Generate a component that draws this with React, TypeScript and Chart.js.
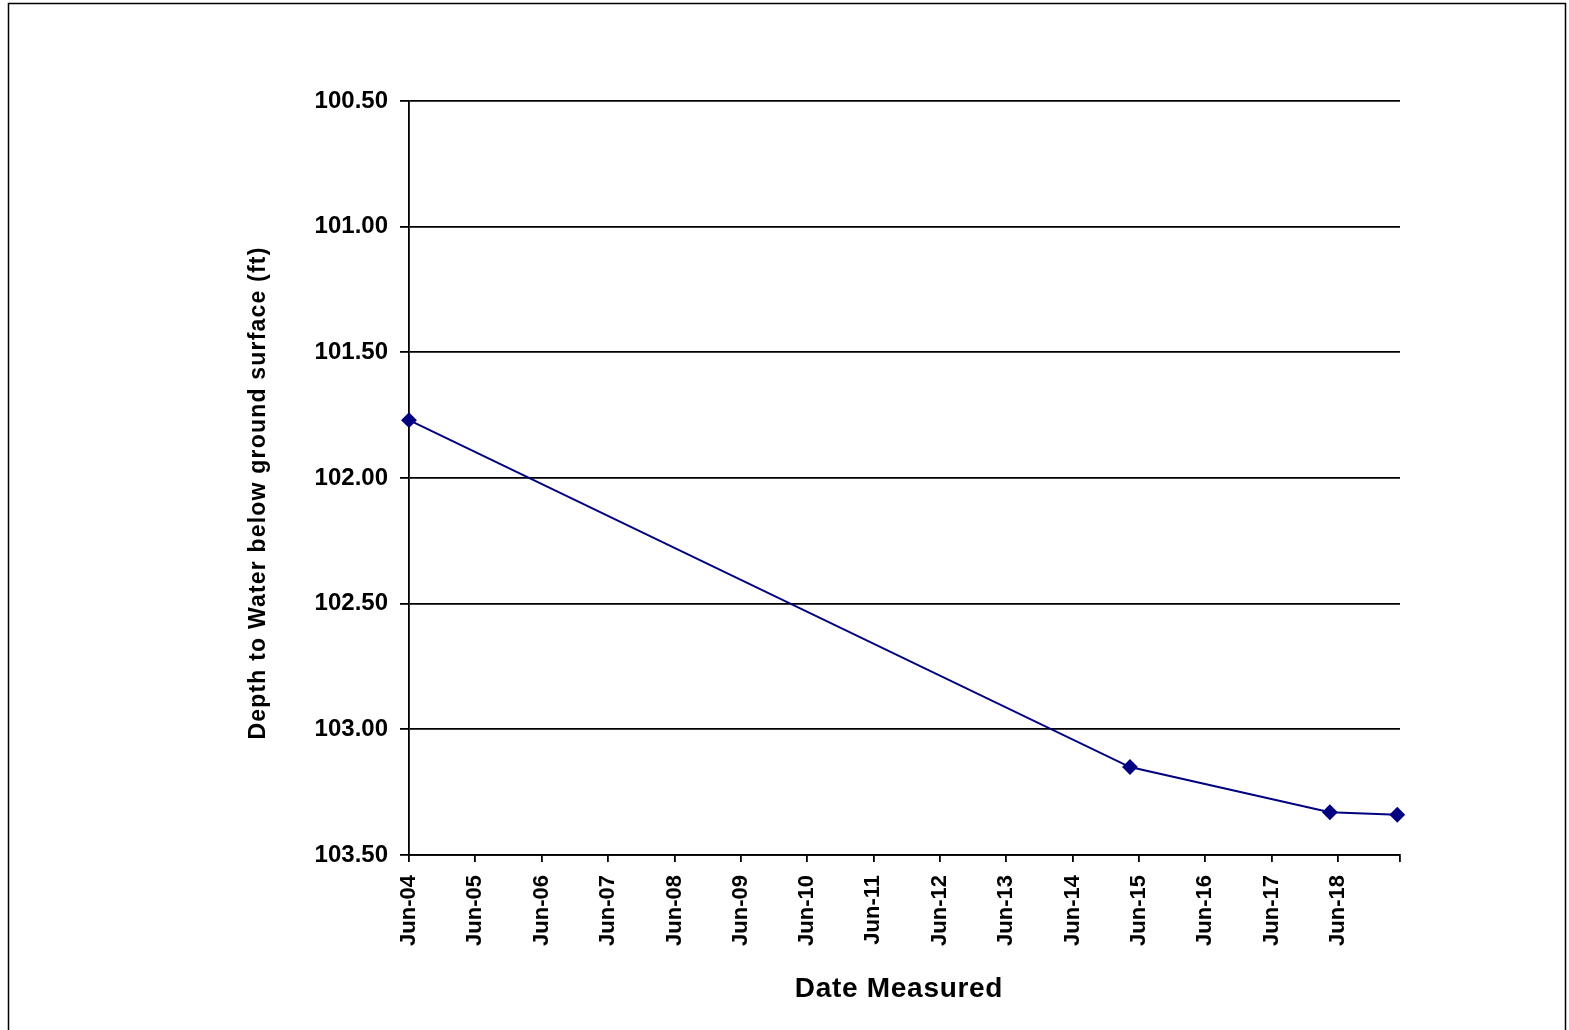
import React, { useEffect, useRef } from 'react';
import { Chart, registerables } from 'chart.js';

Chart.register(...registerables);

// ---- Data ----
const measuredDates = ['2004-06-01', '2015-04-13', '2018-04-17', '2019-04-23'];
const depthValues = [101.77, 103.15, 103.33, 103.34];
const xTickYears = [2004, 2005, 2006, 2007, 2008, 2009, 2010, 2011, 2012, 2013, 2014, 2015, 2016, 2017, 2018];
const xAxisStart = '2004-06-01';
const xAxisEnd = '2019-05-08';
const yTickValues = [100.5, 101.0, 101.5, 102.0, 102.5, 103.0, 103.5];
const xTitleText = 'Date Measured';
const yTitleText = 'Depth to Water below ground surface (ft)';

const FONT = '"Liberation Sans", Arial, sans-serif';

function toTime(s: string): number {
  const [y, m, d] = s.split('-').map(Number);
  return Date.UTC(y, m - 1, d);
}

const tickLabelMap = new Map<number, string>();
xTickYears.forEach((y) => tickLabelMap.set(Date.UTC(y, 5, 1), 'Jun-' + String(y).slice(2)));

const decorPlugin = {
  id: 'decor',
  beforeDraw(chart: any) {
    const ctx = chart.ctx;
    ctx.save();
    ctx.fillStyle = '#ffffff';
    ctx.fillRect(0, 0, chart.width, chart.height);
    ctx.restore();
  },
  afterDraw(chart: any) {
    const ctx = chart.ctx;
    ctx.save();
    // outer frame
    ctx.strokeStyle = '#000';
    ctx.lineWidth = 1.5;
    ctx.strokeRect(8.5, 3.5, 1557, 1100);
    // x title
    ctx.fillStyle = '#000';
    ctx.font = 'bold 28px ' + FONT;
    (ctx as any).letterSpacing = '0.7px';
    ctx.textAlign = 'center';
    ctx.textBaseline = 'alphabetic';
    ctx.fillText(xTitleText, 899, 997);
    // y title
    ctx.translate(265, 493);
    ctx.rotate(-Math.PI / 2);
    ctx.font = 'bold 23px ' + FONT;
    (ctx as any).letterSpacing = '1.2px';
    ctx.fillText(yTitleText, 0, 0);
    ctx.restore();
  },
};

export default function App() {
  const ref = useRef<HTMLCanvasElement | null>(null);

  useEffect(() => {
    if (!ref.current) return;
    const points = measuredDates.map((d, i) => ({ x: toTime(d), y: depthValues[i] }));
    const chart = new Chart(ref.current, {
      type: 'line',
      data: {
        datasets: [
          {
            data: points,
            borderColor: '#000080',
            borderWidth: 2,
            backgroundColor: '#000080',
            pointStyle: 'rectRot',
            pointRadius: 6.5,
            pointBackgroundColor: '#000080',
            pointBorderColor: '#000080',
            tension: 0,
            clip: false,
          } as any,
        ],
      },
      options: {
        responsive: false,
        animation: false,
        devicePixelRatio: 1,
        layout: { padding: { left: 0, top: 101, right: 169, bottom: 0 } },
        plugins: { legend: { display: false }, tooltip: { enabled: false }, title: { display: false } },
        scales: {
          x: {
            type: 'linear',
            min: toTime(xAxisStart),
            max: toTime(xAxisEnd),
            afterFit(s: any) {
              s.height = 175;
            },
            afterBuildTicks(s: any) {
              s.ticks = [
                ...xTickYears.map((y) => ({ value: Date.UTC(y, 5, 1) })),
                { value: toTime(xAxisEnd) },
              ];
            },
            grid: {
              display: true,
              drawOnChartArea: false,
              drawTicks: true,
              tickLength: 7,
              color: '#000',
              lineWidth: 1.8,
            },
            border: { display: true, color: '#000', width: 1.8 },
            ticks: {
              autoSkip: false,
              maxRotation: 90,
              minRotation: 90,
              padding: 13,
              color: '#000',
              font: { family: FONT, size: 22, weight: 'bold' },
              callback: (v: any) => tickLabelMap.get(Number(v)) ?? '',
            },
          },
          y: {
            type: 'linear',
            reverse: true,
            min: 100.5,
            max: 103.5,
            afterFit(s: any) {
              s.width = 409;
            },
            afterBuildTicks(s: any) {
              s.ticks = yTickValues.map((v) => ({ value: v }));
            },
            grid: {
              display: true,
              drawTicks: true,
              tickLength: 9,
              color: '#000',
              lineWidth: 1.8,
            },
            border: { display: true, color: '#000', width: 1.8 },
            ticks: {
              padding: 12,
              color: '#000',
              font: { family: FONT, size: 24, weight: 'bold' },
              callback: (v: any) => Number(v).toFixed(2),
            },
          },
        },
      } as any,
      plugins: [decorPlugin],
    });
    return () => chart.destroy();
  }, []);

  return (
    <div style={{ position: 'fixed', left: 0, top: 0, width: 1569, height: 1030, background: '#fff' }}>
      <canvas ref={ref} width={1569} height={1030} style={{ display: 'block' }} />
    </div>
  );
}
